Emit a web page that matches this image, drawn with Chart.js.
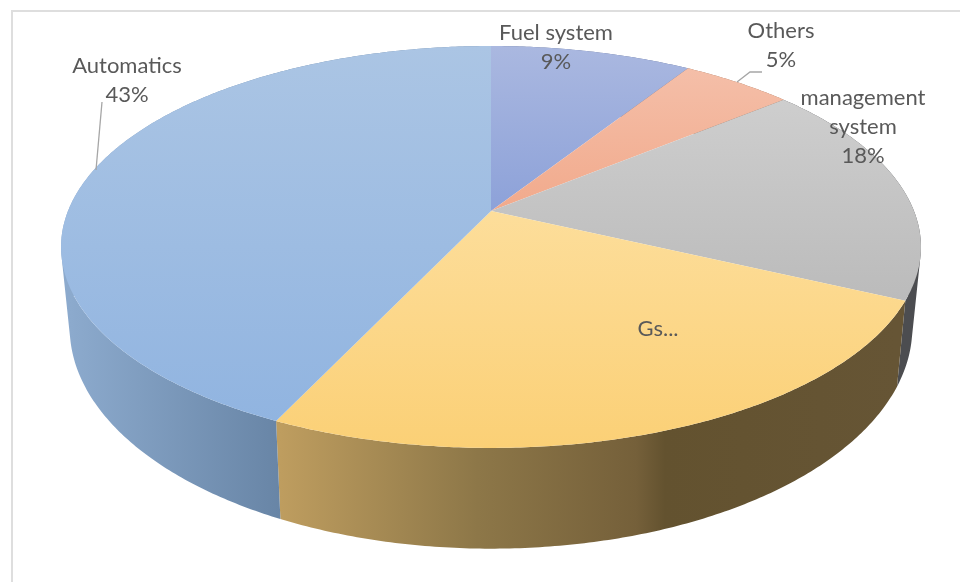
<!DOCTYPE html>
<html>
<head>
<meta charset="utf-8">
<title>Pie</title>
<script src="https://cdn.jsdelivr.net/npm/chart.js@4"></script>
<style>
  html, body { margin: 0; background: #fff; }
  canvas { display: block; }
</style>
</head>
<body>
<canvas id="pie" width="960" height="582"></canvas>
<script>
// Data, clockwise from 12 o'clock
const categories = ['Fuel system', 'Others', 'management system', 'Gs...', 'Automatics'];
const values = [9, 5, 18, 25, 43];

// top face gradient (far edge, near edge) and wall gradient stops
const topColors = [
  ['#AAB8E0', '#6381CE'],
  ['#F5C2AD', '#EC875C'],
  ['#D3D3D3', '#ADADAD'],
  ['#FEE7B4', '#FBD076'],
  ['#ABC5E4', '#8FB3E0']
];
const wallColors = [
  [[0, '#5B6A92'], [1, '#5B6A92']],
  [[0, '#96684F'], [1, '#96684F']],
  [[0, '#4C4D50'], [1, '#4C4D50']],
  [[0, '#BE9D5F'], [0.32, '#8D7748'], [0.577, '#75603A'], [0.624, '#63522F'], [1, '#665535']],
  [[0, '#8CAACD'], [1, '#6885A6']]
];

// Perspective of the tilted disc: top and bottom rims are each a projected circle
const tilt = -0.179;
const topRim = { x: 491, y: 211, a: 423, b: 194.5 };
const bottomRim = { x: 491, y: 288, a: 414.5, b: 214 };

function project(rim, angle) {
  const u = Math.cos(angle);
  const v = Math.sin(angle);
  const w = 1 + tilt * v;
  return [rim.x + rim.a * u / w, rim.y + rim.b * v / w];
}

function rimAngles(arc) {
  const out = [];
  const steps = Math.max(2, Math.ceil((arc.endAngle - arc.startAngle) / 0.01));
  for (let i = 0; i <= steps; i++) {
    out.push(arc.startAngle + (arc.endAngle - arc.startAngle) * i / steps);
  }
  return out;
}

function drawWall(ctx, arc, stops) {
  const angles = rimAngles(arc);
  const tops = angles.map(a => project(topRim, a));
  const bottoms = angles.map(a => project(bottomRim, a));
  // gradient runs over the part of the wall facing the viewer
  const front = angles.filter(a => Math.sin(a) >= 0);
  const xs = (front.length ? front : angles).map(a => project(bottomRim, a)[0]);
  const grad = ctx.createLinearGradient(Math.min(...xs), 0, Math.max(...xs), 0);
  stops.forEach(s => grad.addColorStop(s[0], s[1]));

  ctx.beginPath();
  for (let i = 0; i < angles.length - 1; i++) {
    const q = [tops[i], tops[i + 1], bottoms[i + 1], bottoms[i]];
    let area = 0;
    q.forEach((p, j) => {
      const n = q[(j + 1) % 4];
      area += p[0] * n[1] - n[0] * p[1];
    });
    if (area < 0) q.reverse();   // same winding, otherwise overlaps cancel near the silhouette
    ctx.moveTo(q[0][0], q[0][1]);
    ctx.lineTo(q[1][0], q[1][1]);
    ctx.lineTo(q[2][0], q[2][1]);
    ctx.lineTo(q[3][0], q[3][1]);
    ctx.closePath();
  }
  ctx.fillStyle = grad;
  ctx.fill();
}

function drawTop(ctx, arc, colors) {
  const far = topRim.y - topRim.b / (1 + Math.abs(tilt));
  const near = topRim.y + topRim.b / (1 - Math.abs(tilt));
  const grad = ctx.createLinearGradient(0, far, 0, near);
  grad.addColorStop(0, colors[0]);
  grad.addColorStop(1, colors[1]);
  ctx.beginPath();
  ctx.moveTo(topRim.x, topRim.y);
  rimAngles(arc).forEach(a => {
    const p = project(topRim, a);
    ctx.lineTo(p[0], p[1]);
  });
  ctx.closePath();
  ctx.fillStyle = grad;
  ctx.fill();
}

function sliceLabel(i) {
  if (i === 3) return [categories[i]];   // the original cuts this one short, no percentage
  const name = categories[i];
  return (i === 2 ? name.split(' ') : [name]).concat(values[i] + '%');
}

const labelAnchors = [
  { x: 556, y: 40, step: 29 },
  { x: 781, y: 38, step: 29 },
  { x: 863, y: 105, step: 29 },
  { x: 658, y: 336, step: 29 },
  { x: 127, y: 73, step: 29 }
];

const leaders = [
  [[102, 102], [96, 170]],
  [[762, 72], [750, 72], [737, 82]]
];

const disc3d = {
  id: 'disc3d',
  beforeDatasetsDraw(chart) {
    const ctx = chart.ctx;
    const arcs = chart.getDatasetMeta(0).data;

    // frame, left and top only
    ctx.save();
    ctx.strokeStyle = '#DEDEDE';
    ctx.lineWidth = 2;
    ctx.beginPath();
    ctx.moveTo(12, 582);
    ctx.lineTo(12, 11);
    ctx.lineTo(960, 11);
    ctx.stroke();

    arcs.forEach((arc, i) => drawWall(ctx, arc, wallColors[i]));
    arcs.forEach((arc, i) => drawTop(ctx, arc, topColors[i]));
    ctx.restore();
  },
  afterDatasetsDraw(chart) {
    const ctx = chart.ctx;
    ctx.save();
    ctx.strokeStyle = '#A6A6A6';
    ctx.lineWidth = 1.3;
    leaders.forEach(line => {
      ctx.beginPath();
      line.forEach((p, j) => j ? ctx.lineTo(p[0], p[1]) : ctx.moveTo(p[0], p[1]));
      ctx.stroke();
    });

    ctx.fillStyle = '#595959';
    ctx.font = '22px Lato';
    ctx.textAlign = 'center';
    categories.forEach((c, i) => {
      const a = labelAnchors[i];
      sliceLabel(i).forEach((text, j) => ctx.fillText(text, a.x, a.y + j * a.step));
    });
    ctx.restore();
  }
};

new Chart(document.getElementById('pie'), {
  type: 'pie',
  data: {
    labels: categories,
    datasets: [{ data: values, backgroundColor: 'transparent', borderWidth: 0 }]
  },
  options: {
    responsive: false,
    animation: false,
    plugins: {
      legend: { display: false },
      tooltip: { enabled: false }
    }
  },
  plugins: [disc3d]
});
</script>
</body>
</html>
